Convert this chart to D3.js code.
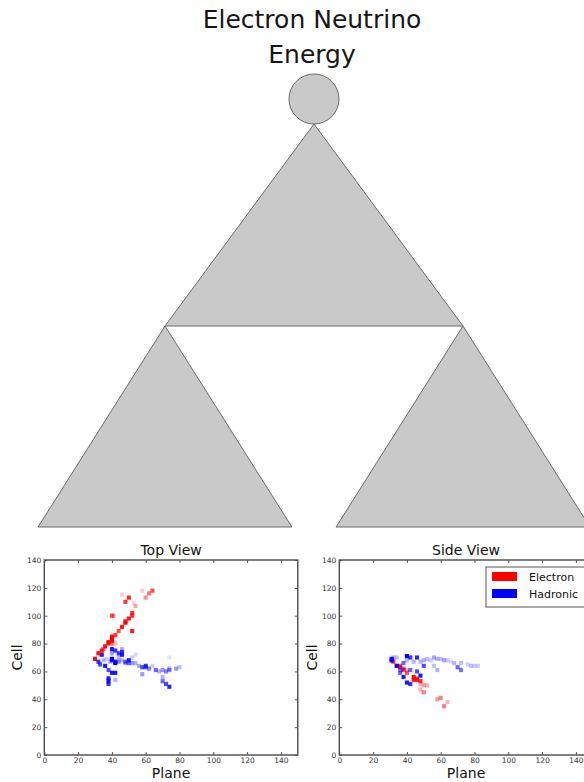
<!DOCTYPE html>
<html>
<head>
<meta charset="utf-8">
<script src="https://cdn.jsdelivr.net/npm/d3@7/dist/d3.min.js"></script>
<style>
  html, body { margin: 0; padding: 0; background: #fff; }
  svg { display: block; }
  text { font-family: "DejaVu Sans", sans-serif; }
</style>
</head>
<body>
<script>
// ---- data -------------------------------------------------------------
const titleLines = ["Electron Neutrino", "Energy"];
const xTicks = [0, 20, 40, 60, 80, 100, 120, 140];
const yTicks = [0, 20, 40, 60, 80, 100, 120, 140];
const seriesNames = ["Electron", "Hadronic"];

// hits: [plane, cell, intensity]
const topElectron = [
  [30,69,0.9],[32,73,0.95],[34,75,0.9],[35,76,0.6],[36,78,0.95],[38,80,0.8],[38,81,1],
  [40,82,1],[40,84,1],[40,85,0.9],[40,80,0.5],[42,86,0.8],[42,80,0.3],[40,100,0.7],
  [41,100,0.4],[44,89,0.7],[46,92,0.9],[48,95,1],[48,96,0.8],[50,98,0.9],[52,100,0.8],
  [52,102,0.8],[52,89,0.9],[48,110,0.8],[50,113,0.85],[46,115,0.2],[54,107,0.35],
  [53,109,0.15],[58,118,0.2],[60,113,0.45],[62,116,0.55],[64,118,0.7]
];
const topHadronic = [
  [30,69,0.5],[32,67,0.8],[33,65,0.7],[34,72,0.9],[36,64,0.9],[35,68,0.3],[37,69,0.2],
  [38,61,0.7],[38,55,0.9],[38,53,0.9],[38,51,0.8],[39,67,0.3],[40,76,0.9],[40,59,0.9],
  [40,68,0.9],[40,69,1],[40,73,0.4],[42,75,0.8],[42,66,1],[42,67,0.9],[42,59,0.9],
  [42,54,0.3],[44,73,0.8],[44,67,0.5],[44,70,0.3],[46,74,0.8],[46,72,0.9],[46,76,0.3],
  [46,68,0.3],[48,67,0.6],[48,66,0.4],[50,68,0.9],[50,66,0.6],[52,66,0.4],[52,70,0.2],
  [54,66,0.3],[54,72,0.15],[56,64,0.35],[58,63,0.7],[58,58,0.4],[60,64,0.8],[60,63,0.6],
  [62,62,0.5],[64,64,0.2],[66,61,0.6],[68,60,0.3],[70,61,0.4],[70,56,0.3],[70,53,0.6],
  [72,51,0.7],[72,60,0.5],[74,49,0.85],[74,61,0.5],[74,62,0.3],[74,70,0.1],[78,62,0.4],
  [80,63,0.25]
];
const sideElectron = [
  [31,68,0.9],[32,67,0.8],[34,64,0.85],[36,63,0.9],[36,64,0.7],[38,61,0.7],[38,62,0.4],
  [40,59,0.7],[40,61,0.3],[44,56,0.95],[44,54,0.9],[46,54,0.9],[46,55,0.7],[48,53,0.85],
  [48,51,0.3],[48,47,0.3],[50,50,0.4],[50,45,0.5],[52,50,0.3],[58,40,0.4],[60,41,0.5],
  [62,35,0.5],[64,38,0.3]
];
const sideHadronic = [
  [31,69,0.95],[31,68,0.9],[32,70,0.3],[34,70,0.25],[34,64,0.9],[36,59,0.6],[36,61,0.5],
  [38,56,0.9],[38,66,0.6],[38,62,0.3],[40,52,0.9],[40,71,1],[40,68,0.3],[42,51,0.8],
  [42,70,0.8],[42,61,0.6],[44,67,0.3],[46,70,0.85],[46,60,0.7],[48,57,0.9],[48,67,0.3],
  [50,64,0.7],[50,68,0.3],[52,69,0.25],[54,68,0.2],[56,70,0.35],[56,64,0.25],[58,69,0.3],
  [58,61,0.3],[60,69,0.25],[62,68,0.35],[64,68,0.2],[66,67,0.15],[68,66,0.3],[70,63,0.6],
  [72,61,0.55],[72,66,0.25],[76,65,0.2],[78,64,0.25],[80,64,0.2],[82,64,0.2]
];

// ---- page ---------------------------------------------------------------
const W = 584, H = 782;
const svg = d3.select("body").append("svg").attr("width", W).attr("height", H);

const defs = svg.append("defs");
defs.append("filter").attr("id", "soft")
  .append("feGaussianBlur").attr("stdDeviation", 0.45);

// ---- title ------------------------------------------------------------
svg.append("g").selectAll("text").data(titleLines).join("text")
  .attr("x", 312)
  .attr("y", (d, i) => 28 + i * 35)
  .attr("text-anchor", "middle")
  .style("font-size", "25px")
  .attr("fill", "#161616")
  .text(d => d);

// ---- tree diagram -------------------------------------------------------
// abstract layout: root triangle base spans -1..1, children sit on its corners
const tx = d3.scaleLinear().domain([-1, 1]).range([165, 463]);
const ty = d3.scaleLinear().domain([0, 1, 2]).range([124, 326, 527]);
const childHalf = 0.852;
const triangles = [
  { apex: 0, depth: 0, half: 1 },
  { apex: -1, depth: 1, half: childHalf },
  { apex: 1, depth: 1, half: childHalf }
];
const tree = svg.append("g");
tree.selectAll("path").data(triangles).join("path")
  .attr("d", t => {
    const y0 = ty(t.depth), y1 = ty(t.depth + 1);
    return `M${tx(t.apex)},${y0}L${tx(t.apex + t.half)},${y1}L${tx(t.apex - t.half)},${y1}Z`;
  })
  .attr("fill", "#c9c9c9")
  .attr("stroke", "#6a6a6a")
  .attr("stroke-width", 1);
tree.append("circle")
  .attr("cx", tx(0)).attr("cy", ty(0) - 25).attr("r", 25)
  .attr("fill", "#c9c9c9").attr("stroke", "#6a6a6a").attr("stroke-width", 1);

// ---- event displays ----------------------------------------------------------
const colors = { Electron: "#ff0000", Hadronic: "#0000ff" };
const panels = [
  { title: "Top View", left: 44.3, hits: [["Hadronic", topHadronic], ["Electron", topElectron]], legend: false },
  { title: "Side View", left: 339.3, hits: [["Electron", sideElectron], ["Hadronic", sideHadronic]], legend: true }
];
const plotTop = 560, plotBottom = 755;
const pxPerPlane = 33.8 / 20;

panels.forEach(p => {
  const x = d3.scaleLinear().domain([0, 150]).range([p.left, p.left + 150 * pxPerPlane]);
  const y = d3.scaleLinear().domain([0, 140]).range([plotBottom, plotTop]);
  const g = svg.append("g");

  const hw = x(1.2) - x(0), hh = y(0) - y(1.5);
  const pts = g.append("g").attr("filter", "url(#soft)");
  p.hits.forEach(([name, arr]) => {
    pts.append("g").selectAll("rect").data(arr).join("rect")
      .attr("x", d => x(d[0]) - hw)
      .attr("y", d => y(d[1]) - hh)
      .attr("width", 2 * hw)
      .attr("height", 2 * hh)
      .attr("fill", colors[name])
      .attr("fill-opacity", d => d[2]);
  });

  // frame
  g.append("rect")
    .attr("x", x(0)).attr("y", plotTop)
    .attr("width", x(150) - x(0)).attr("height", plotBottom - plotTop)
    .attr("fill", "none").attr("stroke", "#4a4a4a").attr("stroke-width", 1.4);

  // axes with inward ticks
  const ax = g.append("g").attr("transform", `translate(0,${plotBottom})`)
    .call(d3.axisBottom(x).tickValues(xTicks).tickSizeInner(-3).tickSizeOuter(0).tickPadding(3));
  const ay = g.append("g").attr("transform", `translate(${x(0)},0)`)
    .call(d3.axisLeft(y).tickValues(yTicks).tickSizeInner(-3).tickSizeOuter(0).tickPadding(3));
  g.append("g").attr("transform", `translate(0,${plotTop})`)
    .call(d3.axisTop(x).tickValues(xTicks).tickSizeInner(-3).tickSizeOuter(0).tickFormat(""));
  g.append("g").attr("transform", `translate(${x(150)},0)`)
    .call(d3.axisRight(y).tickValues(yTicks).tickSizeInner(-3).tickSizeOuter(0).tickFormat(""));
  g.selectAll(".domain").remove();
  g.selectAll(".tick line").attr("stroke", "#555");
  [ax, ay].forEach(a => a.selectAll("text")
    .style("font-family", "'DejaVu Sans', sans-serif").style("font-size", "7.5px").attr("fill", "#333"));
  ax.selectAll("text").attr("y", 2.5);

  const cx = (x(0) + x(150)) / 2;
  g.append("text").attr("x", cx).attr("y", 555).attr("text-anchor", "middle")
    .style("font-size", "14px").attr("fill", "#111").text(p.title);
  g.append("text").attr("x", cx).attr("y", 778).attr("text-anchor", "middle")
    .style("font-size", "14px").attr("fill", "#111").text("Plane");
  g.append("text").attr("transform", `translate(${x(0) - 22},${(plotTop + plotBottom) / 2}) rotate(-90)`)
    .attr("text-anchor", "middle").style("font-size", "14px").attr("fill", "#111").text("Cell");

  if (p.legend) {
    const lg = g.append("g").attr("transform", "translate(486,567)");
    lg.append("rect").attr("width", 110).attr("height", 40)
      .attr("fill", "#fff").attr("stroke", "#555").attr("stroke-width", 1);
    const items = lg.selectAll("g").data(seriesNames).join("g")
      .attr("transform", (d, i) => `translate(6,${5 + i * 17})`);
    items.append("rect").attr("width", 25).attr("height", 9).attr("fill", d => colors[d]);
    items.append("text").attr("x", 37).attr("y", 9).style("font-size", "11px")
      .attr("fill", "#111").text(d => d);
  }
});
</script>
</body>
</html>
